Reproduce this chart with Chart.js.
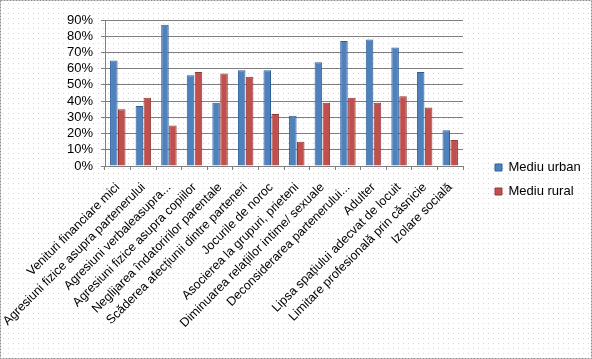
<!DOCTYPE html>
<html lang="ro">
<head>
    <meta charset="UTF-8">
    <title>Mediu urban / Mediu rural</title>
    <script src="https://cdn.jsdelivr.net/npm/chart.js"></script>
    <style>
        html, body { margin: 0; padding: 0; background: #fff; }
        .wrap { width: 592px; height: 359px; }
    </style>
</head>
<body>
<div class="wrap">
    <canvas id="chart" width="592" height="359"></canvas>
</div>
<script>
    // categorii (axa X)
    const categories = [
        'Venituri financiare mici',
        'Agresiuni fizice asupra partenerului',
        'Agresiuni verbaleasupra...',
        'Agresiuni fizice asupra copiilor',
        'Neglijarea îndatoririlor parentale',
        'Scăderea afecțiunii dintre parteneri',
        'Jocurile de noroc',
        'Asocierea la grupuri, prieteni',
        'Diminuarea relațiilor intime/ sexuale',
        'Deconsiderarea partenerului...',
        'Adulter',
        'Lipsa spațiului adecvat de locuit',
        'Limitare profesională prin căsnicie',
        'Izolare socială'
    ];

    // valori (procente)
    const urban = [65, 37, 87, 56, 39, 59, 59, 31, 64, 77, 78, 73, 58, 22];
    const rural = [35, 42, 25, 58, 57, 55, 32, 15, 39, 42, 39, 43, 36, 16];

    const seriesNames = ['Mediu urban', 'Mediu rural'];

    // fundal alb punctat + chenar
    const framePlugin = {
        id: 'frame',
        beforeDraw(chart) {
            const c = chart.ctx;
            c.save();
            c.fillStyle = '#fff';
            c.fillRect(0, 0, chart.width, chart.height);
            c.fillStyle = '#d6d6d6';
            for (let y = 3; y < chart.height; y += 5) {
                for (let x = 3; x < chart.width; x += 5) {
                    c.fillRect(x, y, 1, 1);
                }
            }
            c.restore();
        },
        afterDraw(chart) {
            const c = chart.ctx;
            c.save();
            c.strokeStyle = '#8c8c8c';
            c.lineWidth = 1;
            c.setLineDash([2, 1]);
            c.strokeRect(0.5, 0.5, chart.width - 1, chart.height - 1);
            c.restore();
        }
    };

    // axe goale, doar ca spatiu
    const spacer = (pos, size) => ({
        type: 'linear',
        position: pos,
        display: true,
        grid: { display: false },
        border: { display: false },
        ticks: { display: false },
        afterFit(scale) {
            if (pos === 'top') scale.height = size;
            else scale.width = size;
        }
    });

    const ctx = document.getElementById('chart').getContext('2d');
    new Chart(ctx, {
        type: 'bar',
        data: {
            labels: categories,
            datasets: [
                {
                    label: seriesNames[0],
                    data: urban,
                    backgroundColor: '#4f81bd',
                    borderColor: '#2f5f98',
                    borderWidth: 1,
                    categoryPercentage: 0.62,
                    barPercentage: 0.95
                },
                {
                    label: seriesNames[1],
                    data: rural,
                    backgroundColor: '#c0504d',
                    borderColor: '#933a37',
                    borderWidth: 1,
                    categoryPercentage: 0.62,
                    barPercentage: 0.95
                }
            ]
        },
        options: {
            responsive: false,
            animation: false,
            layout: { padding: { left: 4, top: 0, right: 12, bottom: 0 } },
            plugins: {
                tooltip: { enabled: false },
                legend: {
                    position: 'right',
                    align: 'center',
                    labels: {
                        boxWidth: 7,
                        boxHeight: 7,
                        padding: 11,
                        color: '#000',
                        font: { family: 'Liberation Sans', size: 13 }
                    }
                }
            },
            scales: {
                x: {
                    grid: { display: true, drawOnChartArea: false, color: '#7f7f7f', tickLength: 4 },
                    border: { color: '#7f7f7f' },
                    ticks: {
                        color: '#000',
                        maxRotation: 45,
                        minRotation: 45,
                        autoSkip: false,
                        padding: 10,
                        font: { family: 'Liberation Sans', size: 12.5 }
                    },
                    afterFit(scale) { scale.height = 193; }
                },
                y: {
                    min: 0,
                    max: 90,
                    grid: { color: '#7f7f7f', tickLength: 4 },
                    border: { color: '#7f7f7f' },
                    ticks: {
                        stepSize: 10,
                        autoSkip: false,
                        color: '#000',
                        padding: 8,
                        font: { family: 'Liberation Sans', size: 13 },
                        callback: v => v + '%'
                    },
                    afterFit(scale) { scale.width = 101; }
                },
                gapTop: spacer('top', 20),
                gapRight: spacer('right', 21)
            }
        },
        plugins: [framePlugin]
    });
</script>
</body>
</html>
